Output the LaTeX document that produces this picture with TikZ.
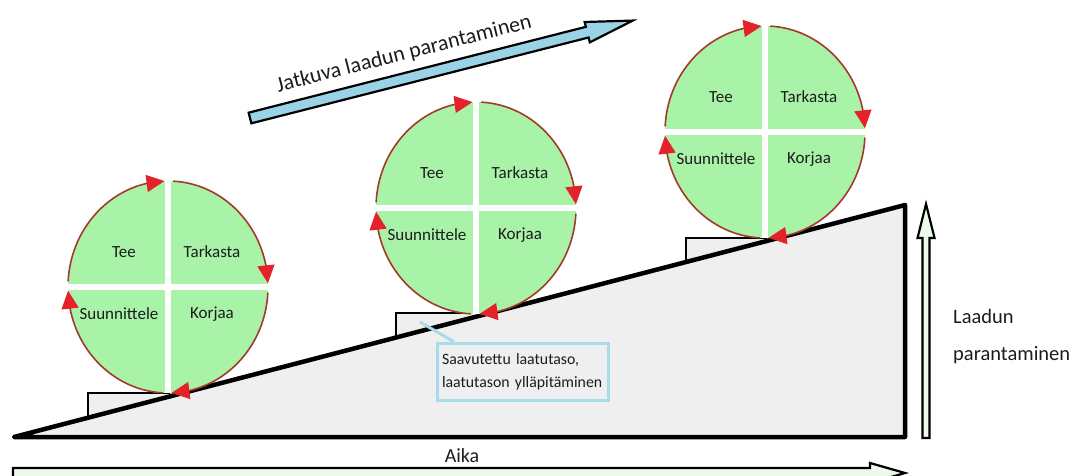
\documentclass[tikz,border=0pt]{standalone}
\usepackage{fontspec}
\setmainfont{Carlito}
\usetikzlibrary{arrows.meta,bending,calc}

\definecolor{wedgegray}{HTML}{EFEFEF}
\definecolor{pdcagreen}{HTML}{A9F3A9}
\definecolor{ringbrown}{HTML}{A23A2A}
\definecolor{tipred}{HTML}{E3222A}
\definecolor{bandblue}{HTML}{9AD3E6}
\definecolor{calloutblue}{HTML}{A8DBE9}
\definecolor{palegreen}{HTML}{EBFAEB}
\definecolor{ink}{HTML}{1C1C1C}

\tikzset{
  wedgeline/.style={draw=black, line width=4.5pt, line join=round},
  stepline/.style={draw=black, line width=1.8pt},
  ringarc/.style={draw=ringbrown, line width=1.6pt,
    -{Triangle[length=18pt,width=17pt,color=tipred,fill=tipred,flex]}},
  gapline/.style={white, line width=6pt},
  quad/.style={font=\fontsize{17}{20}\selectfont, text=ink, inner sep=0pt},
  bigarrow/.style={draw=black, line width=2.2pt, line join=miter},
  label/.style={text=ink, inner sep=0pt},
  callout/.style={draw=calloutblue, line width=3pt, fill=wedgegray,
    minimum width=171pt, minimum height=57pt, inner xsep=5pt,
    text width=161pt, align=left, text=ink,
    font=\fontsize{15.8}{23}\selectfont},
  calloutline/.style={draw=calloutblue, line width=3pt},
  % one PDCA wheel: green disc split in four, clockwise arrows round it
  pdca/.pic={
    \fill[pdcagreen] (0,0) ellipse [x radius=100pt, y radius=106pt];
    \draw[gapline] (0,-106) -- (0,106);
    \draw[gapline] (-100,0) -- (100,0);
    \draw[ringarc] (87:100pt and 106pt)
      arc[start angle=87, end angle=2, x radius=100pt, y radius=106pt];
    \draw[ringarc] (-3:100pt and 106pt)
      arc[start angle=-3, end angle=-88, x radius=100pt, y radius=106pt];
    \draw[ringarc] (-93:100pt and 106pt)
      arc[start angle=-93, end angle=-178, x radius=100pt, y radius=106pt];
    \draw[ringarc] (177:100pt and 106pt)
      arc[start angle=177, end angle=92, x radius=100pt, y radius=106pt];
    \node[quad] (-tee) at (-44,35) {Tee};
    \node[quad] (-tarkasta) at (44,35) {Tarkasta};
    \node[quad] (-suunnittele) at (-49,-27) {Suunnittele};
    \node[quad] (-korjaa) at (44,-27) {Korjaa};
  }
}

\begin{document}
\begin{tikzpicture}[x=1pt,y=1pt]
\useasboundingbox (0,0) rectangle (1082,475);
\clip (0,0) rectangle (1082,475);

% rising wedge and the three level steps
\fill[wedgegray] (14,38) -- (905,38) -- (905,270) -- cycle;
\fill[wedgegray] (88,57.3) -- (88,82) -- (183,82) -- cycle;
\fill[wedgegray] (396,137.5) -- (396,162) -- (490,162) -- cycle;
\fill[wedgegray] (686,213) -- (686,237) -- (778,237) -- cycle;
\draw[stepline] (88,57.3) -- (88,82) -- (170,82);
\draw[stepline] (396,137.5) -- (396,162) -- (478,162);
\draw[stepline] (686,213) -- (686,237) -- (767,237);
\draw[wedgeline] (14,38) -- (905,38) -- (905,270) -- cycle;

% callout on the second step
\node[callout] (note) at (522.5,103.5) {Saavutettu laatutaso,\\laatutason ylläpitäminen};
\coordinate (ptr) at (420,153);
\draw[calloutline] (ptr) -- ($(note.north west)+(18,0)$);

% the three wheels
\pic (c1) at (168,188) {pdca};
\pic (c2) at (476,267) {pdca};
\pic (c3) at (765,343) {pdca};

% continuous improvement arrow
\begin{scope}[shift={(250,357)}, rotate=14.28]
  \draw[bigarrow, fill=bandblue] (0,-5.5) -- (348,-5.5) -- (348,-10.5) -- (395,0)
    -- (348,10.5) -- (348,5.5) -- (0,5.5) -- cycle;
  \node[label, anchor=base, transform shape, font=\fontsize{22}{26}\selectfont]
    (trend) at (165,18) {Jatkuva laadun parantaminen};
\end{scope}

% vertical quality arrow
\draw[bigarrow, fill=palegreen] (922.5,37) -- (922.5,237) -- (917.5,237) -- (926,271)
  -- (934.5,237) -- (929.5,237) -- (929.5,37) -- cycle;
\node[label, anchor=west, align=left, font=\fontsize{20.5}{37}\selectfont]
  (quality) at (953,138.5) {Laadun\\parantaminen};

% time axis
\draw[bigarrow, fill=palegreen] (13,7) -- (870,7) -- (870,12) -- (905,2)
  -- (870,-8) -- (870,-3) -- (13,-3) -- cycle;
\node[label, font=\fontsize{20}{24}\selectfont] (time) at (462,19) {Aika};
\end{tikzpicture}
\end{document}
